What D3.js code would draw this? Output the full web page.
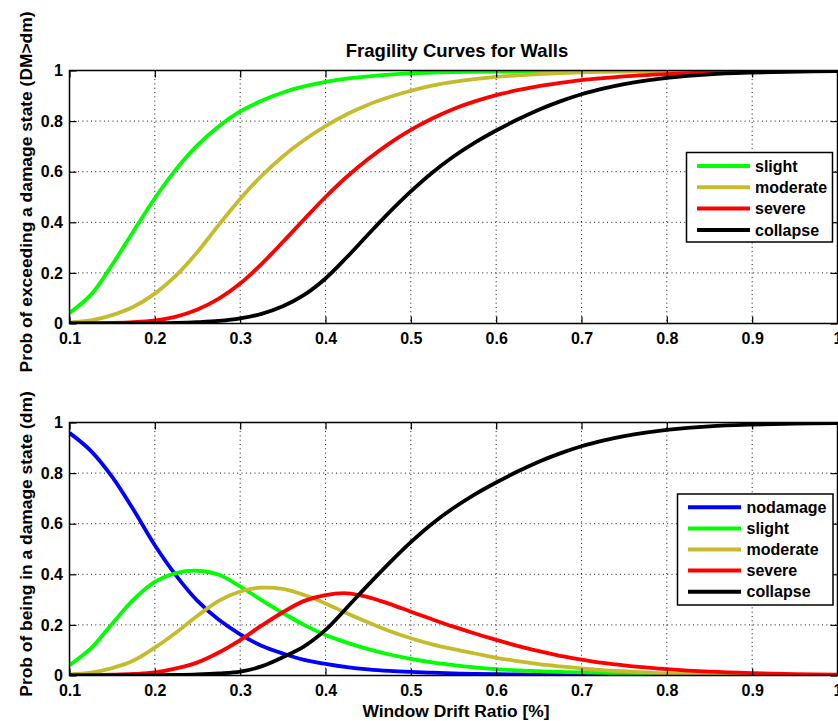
<!DOCTYPE html>
<html>
<head>
<meta charset="utf-8">
<script src="https://cdn.jsdelivr.net/npm/d3@7"></script>
<style>
  html, body { margin: 0; padding: 0; background: #fff; }
  svg { display: block; }
  text { font-family: "Liberation Sans", Arial, Helvetica, sans-serif; font-weight: bold; fill: #000; }
</style>
</head>
<body>
<svg id="chart" width="838" height="721"></svg>
<script>
// ---------------- data ----------------
const driftRatio = [0.1,0.125,0.15,0.175,0.2,0.225,0.25,0.275,0.3,0.325,0.35,0.375,0.4,0.425,0.45,0.475,0.5,0.525,0.55,0.575,0.6,0.625,0.65,0.675,0.7,0.725,0.75,0.775,0.8,0.85,0.9,0.95,1.0];

const topTitle = "Fragility Curves for Walls";
const topYLabel = "Prob of exceeding a damage state (DM>dm)";
const bottomYLabel = "Prob of being in a damage state (dm)";
const xLabel = "Window Drift Ratio [%]";

const xTicks = [0.1,0.2,0.3,0.4,0.5,0.6,0.7,0.8,0.9,1.0];
const xTickLabels = ["0.1","0.2","0.3","0.4","0.5","0.6","0.7","0.8","0.9","1"];
const yTicks = [0,0.2,0.4,0.6,0.8,1];
const yTickLabels = ["0","0.2","0.4","0.6","0.8","1"];

// Top panel: probability of exceeding a damage state
const topNames = ["slight","moderate","severe","collapse"];
const exceedSlight   = [0.042,0.113,0.232,0.365,0.495,0.61,0.705,0.78,0.838,0.88,0.913,0.937,0.955,0.968,0.977,0.984,0.989,0.992,0.994,0.995,0.996,0.997,0.998,0.998,0.999,0.999,0.999,0.999,1,1,1,1,1];
const exceedModerate = [0.004,0.012,0.033,0.066,0.118,0.19,0.283,0.39,0.492,0.583,0.66,0.725,0.78,0.827,0.865,0.895,0.92,0.94,0.955,0.966,0.975,0.981,0.986,0.99,0.993,0.995,0.996,0.997,0.998,0.999,1,1,1];
const exceedSevere   = [0,0.001,0.002,0.005,0.012,0.027,0.055,0.098,0.158,0.235,0.322,0.412,0.5,0.58,0.65,0.712,0.765,0.81,0.848,0.878,0.903,0.922,0.938,0.951,0.962,0.97,0.977,0.982,0.986,0.992,0.995,0.997,0.998];
const exceedCollapse = [0,0,0,0,0.001,0.002,0.005,0.01,0.02,0.038,0.068,0.113,0.178,0.262,0.352,0.44,0.522,0.596,0.66,0.715,0.763,0.806,0.845,0.878,0.906,0.928,0.946,0.96,0.971,0.985,0.992,0.996,0.998];

// Bottom panel: probability of being in a damage state
const bottomNames = ["nodamage","slight","moderate","severe","collapse"];
const inNoDamage = [0.959,0.888,0.785,0.655,0.515,0.395,0.295,0.22,0.163,0.118,0.087,0.062,0.046,0.033,0.024,0.018,0.014,0.011,0.008,0.006,0.005,0.004,0.003,0.002,0.002,0.001,0.001,0.001,0.001,0,0,0,0];
const inSlight   = [0.041,0.107,0.205,0.3,0.37,0.405,0.414,0.398,0.352,0.298,0.247,0.2,0.16,0.13,0.104,0.083,0.066,0.052,0.041,0.032,0.025,0.02,0.017,0.014,0.012,0.01,0.008,0.007,0.005,0.003,0.002,0.001,0.001];
const inModerate = [0.004,0.011,0.029,0.059,0.11,0.17,0.236,0.295,0.332,0.347,0.342,0.318,0.285,0.246,0.21,0.176,0.147,0.123,0.104,0.087,0.07,0.057,0.045,0.036,0.028,0.021,0.017,0.012,0.008,0.005,0.003,0.002,0.001];
const inSevere   = [0,0.001,0.003,0.006,0.012,0.028,0.052,0.091,0.14,0.197,0.25,0.295,0.318,0.325,0.31,0.283,0.252,0.222,0.193,0.166,0.141,0.117,0.096,0.078,0.063,0.05,0.04,0.032,0.025,0.015,0.009,0.005,0.003];
const inCollapse = [0,0,0,0,0.001,0.002,0.004,0.008,0.015,0.036,0.072,0.115,0.18,0.268,0.358,0.445,0.527,0.6,0.662,0.716,0.763,0.806,0.845,0.878,0.906,0.928,0.946,0.96,0.971,0.985,0.992,0.996,0.998];

// ---------------- styles ----------------
const colorOf = {
  nodamage: "#0000ff",
  slight: "#00ff00",
  moderate: "#c4bc2c",
  severe: "#ff0000",
  collapse: "#000000"
};

const svg = d3.select("#chart");
const plotLeft = 69.5, plotRight = 837.5;
const x = d3.scaleLinear().domain([0.1, 1.0]).range([plotLeft, plotRight]);

function drawPanel(cfg) {
  const y = d3.scaleLinear().domain([0, 1]).range([cfg.bottom, cfg.top]);
  const g = svg.append("g");
  const clipId = "clip" + cfg.id;
  svg.append("clipPath").attr("id", clipId)
    .append("rect")
    .attr("x", plotLeft).attr("y", cfg.top)
    .attr("width", plotRight - plotLeft).attr("height", cfg.bottom - cfg.top);

  g.append("rect").attr("x", plotLeft).attr("y", cfg.top)
    .attr("width", plotRight - plotLeft).attr("height", cfg.bottom - cfg.top)
    .attr("fill", "#fff");

  // grid (dotted)
  const grid = g.append("g").attr("stroke", "#111").attr("stroke-width", 1)
    .attr("stroke-dasharray", "1,3.3");
  xTicks.filter(t => t > 0.1 && t < 1.0).forEach(t => {
    grid.append("line").attr("x1", x(t)).attr("x2", x(t))
      .attr("y1", cfg.top).attr("y2", cfg.bottom);
  });
  yTicks.filter(t => t > 0 && t < 1).forEach(t => {
    grid.append("line").attr("x1", plotLeft).attr("x2", plotRight)
      .attr("y1", y(t)).attr("y2", y(t));
  });

  // curves
  const line = d3.line()
    .x((d, i) => x(driftRatio[i]))
    .y(d => y(d))
    .curve(d3.curveCatmullRom.alpha(0.5));
  const curves = g.append("g").attr("clip-path", `url(#${clipId})`);
  cfg.series.forEach((s, k) => {
    curves.append("path")
      .attr("d", line(s))
      .attr("fill", "none")
      .attr("stroke", colorOf[cfg.names[k]])
      .attr("stroke-width", 3.8)
      .attr("stroke-linejoin", "round");
  });

  // axes (ticks inward on all four sides)
  const fmtX = d => xTickLabels[xTicks.indexOf(d)];
  const fmtY = d => yTickLabels[yTicks.indexOf(d)];
  const axB = g.append("g").attr("transform", `translate(0,${cfg.bottom})`)
    .call(d3.axisBottom(x).tickValues(xTicks).tickFormat(fmtX).tickSize(-7).tickPadding(9.5));
  const axT = g.append("g").attr("transform", `translate(0,${cfg.top})`)
    .call(d3.axisTop(x).tickValues(xTicks).tickFormat("").tickSize(-7));
  const axL = g.append("g").attr("transform", `translate(${plotLeft},0)`)
    .call(d3.axisLeft(y).tickValues(yTicks).tickFormat(fmtY).tickSize(-7).tickPadding(6.5));
  const axR = g.append("g").attr("transform", `translate(${plotRight},0)`)
    .call(d3.axisRight(y).tickValues(yTicks).tickFormat("").tickSize(-7));
  [axB, axT, axL, axR].forEach(a => {
    a.select(".domain").remove();
    a.selectAll(".tick line").attr("stroke", "#000").attr("stroke-width", 1.2);
    a.selectAll("text").attr("font-size", 16).attr("font-family", null).attr("fill", "#000");
  });

  // frame
  g.append("rect").attr("x", plotLeft).attr("y", cfg.top)
    .attr("width", plotRight - plotLeft).attr("height", cfg.bottom - cfg.top)
    .attr("fill", "none").attr("stroke", "#000").attr("stroke-width", 1.5);

  // y label
  g.append("text")
    .attr("transform", `translate(31.5,${(cfg.top + cfg.bottom) / 2 - 5}) rotate(-90)`)
    .attr("text-anchor", "middle")
    .attr("font-size", 17.4)
    .text(cfg.yLabel);

  // legend
  const L = cfg.legend;
  const lg = g.append("g");
  lg.append("rect").attr("x", L.x).attr("y", L.y).attr("width", L.w).attr("height", L.h)
    .attr("fill", "#fff").attr("stroke", "#000").attr("stroke-width", 1.5);
  cfg.names.forEach((n, k) => {
    const yy = L.row0 + k * L.step;
    lg.append("line").attr("x1", L.lx1).attr("x2", L.lx2).attr("y1", yy).attr("y2", yy)
      .attr("stroke", colorOf[n]).attr("stroke-width", 4);
    lg.append("text").attr("x", L.tx).attr("y", yy).attr("dy", "0.35em")
      .attr("font-size", 16).text(n);
  });
  return g;
}

drawPanel({
  id: "top", top: 70.5, bottom: 323.5,
  names: topNames,
  series: [exceedSlight, exceedModerate, exceedSevere, exceedCollapse],
  yLabel: topYLabel,
  legend: { x: 686.5, y: 152.5, w: 146, h: 89.5, lx1: 697, lx2: 750, tx: 755, row0: 166, step: 21.3 }
});

drawPanel({
  id: "bottom", top: 422.5, bottom: 675.5,
  names: bottomNames,
  series: [inNoDamage, inSlight, inModerate, inSevere, inCollapse],
  yLabel: bottomYLabel,
  legend: { x: 677.5, y: 494, w: 155.5, h: 111, lx1: 688, lx2: 741, tx: 746.5, row0: 507.3, step: 21.1 }
});

svg.append("text").attr("x", 457).attr("y", 57)
  .attr("text-anchor", "middle").attr("font-size", 18.5).text(topTitle);
svg.append("text").attr("x", 456).attr("y", 717)
  .attr("text-anchor", "middle").attr("font-size", 17.4).text(xLabel);
</script>
</body>
</html>
